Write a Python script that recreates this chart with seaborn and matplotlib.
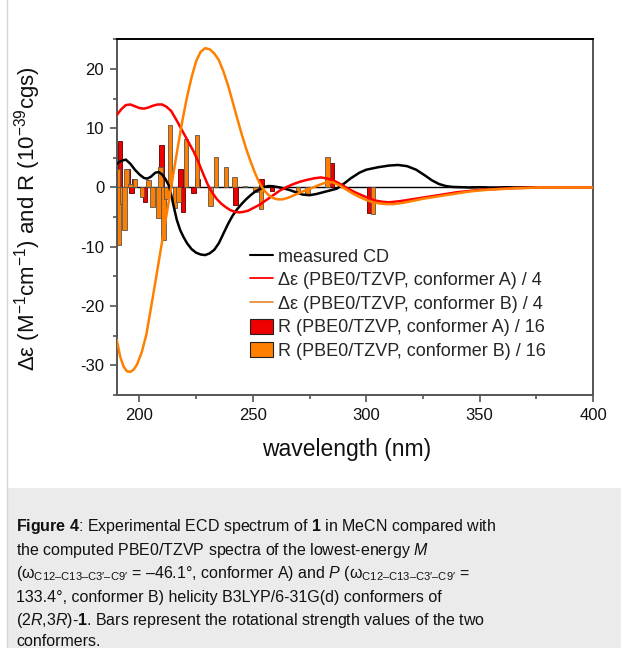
import matplotlib
matplotlib.use("Agg")
import matplotlib.pyplot as plt
import matplotlib.ticker as mticker
from matplotlib.patches import Rectangle, Patch
from matplotlib.lines import Line2D
import seaborn as sns

# measured CD spectrum
cd_nm = [190, 192, 194, 196, 198, 200, 202, 203.5, 205, 207, 208.5, 210, 211.5, 213, 214,
         215, 216.5, 218, 219.5, 221, 223, 225, 227, 229, 231, 233, 235, 237, 239, 241,
         243, 245, 247, 249, 251, 253, 255, 257, 259, 262, 266, 269, 272, 275, 278, 281,
         284, 287, 290, 293, 297, 300, 305, 310, 314, 318, 322, 326, 329, 332, 335, 338,
         342, 346, 350, 354, 358, 362, 366, 370, 375]
cd_val = [4.0, 4.5, 4.7, 4.0, 3.0, 2.2, 1.6, 1.5, 1.8, 2.5, 2.6, 2.2, 1.4, 0.3, -1.2,
          -3.0, -5.5, -7.2, -8.4, -9.4, -10.4, -11.0, -11.3, -11.4, -11.1, -10.5, -9.4, -7.8, -6.2, -4.8,
          -3.7, -2.8, -2.0, -1.3, -0.7, -0.3, 0.1, 0.25, 0.2, 0.0, -0.4, -0.8, -1.2, -1.3, -1.1, -0.8,
          -0.5, -0.2, 0.6, 1.5, 2.5, 3.0, 3.4, 3.7, 3.8, 3.6, 3.0, 2.0, 1.2, 0.6, 0.25, 0.1,
          0.05, 0.0, 0.05, 0.0, 0.0, 0.05, 0.0, 0.0, 0.0]

# computed spectrum, conformer A (divided by 4)
a_nm = [190, 192, 194, 196, 198, 200, 202, 204, 206, 208, 210, 212, 214, 216, 218, 220,
        222, 224, 226, 228, 230, 232, 234, 236, 238, 240, 242, 244, 246, 248, 250, 253,
        256, 259, 262, 265, 268, 271, 274, 277, 280, 283, 286, 289, 292, 295, 298, 301,
        304, 307, 310, 315, 320, 325, 330, 335, 340, 345, 350, 355, 360, 365, 370, 375, 400]
a_val = [12.2, 13.2, 13.9, 14.0, 13.7, 13.4, 13.3, 13.5, 13.8, 14.0, 14.0, 13.6, 12.9, 11.6, 10.2, 8.8,
         7.4, 6.0, 4.3, 2.4, 0.6, -0.8, -1.9, -2.7, -3.3, -3.8, -4.1, -4.2, -4.1, -3.9, -3.5, -2.9,
         -2.1, -1.3, -0.5, 0.1, 0.6, 1.0, 1.3, 1.55, 1.7, 1.5, 1.1, 0.5, -0.2, -0.8, -1.3, -1.8,
         -2.2, -2.4, -2.5, -2.3, -2.0, -1.7, -1.4, -1.1, -0.8, -0.6, -0.4, -0.3, -0.2, -0.1, -0.05, 0.0, 0.0]

# computed spectrum, conformer B (divided by 4)
b_nm = [190, 191.5, 193, 194.5, 196, 197.5, 199, 201, 203, 205, 207, 209, 211, 213, 215, 217,
        219, 221, 223, 225, 227, 229, 231, 233, 235, 237, 239, 241, 243, 245, 247, 249,
        251, 253, 255, 257, 259, 261, 263, 265, 267, 270, 273, 276, 279, 282, 285, 288,
        291, 294, 297, 300, 303, 306, 309, 312, 316, 320, 325, 330, 335, 340, 345, 350,
        355, 360, 365, 370, 375, 400]
b_val = [-25.7, -28.5, -30.2, -31.0, -31.1, -30.7, -29.8, -27.8, -24.9, -20.5, -16.0, -11.4, -6.8, -2.2, 2.4, 7.0,
         11.4, 15.3, 18.6, 21.3, 22.9, 23.5, 23.3, 22.6, 21.5, 19.6, 17.3, 14.6, 11.8, 9.1, 6.6, 4.4,
         2.4, 0.7, -0.5, -1.3, -1.8, -2.0, -2.0, -1.8, -1.5, -1.0, -0.5, -0.1, 0.4, 0.8, 0.9, 0.4,
         -0.3, -1.0, -1.6, -2.1, -2.5, -2.7, -2.8, -2.8, -2.6, -2.3, -1.9, -1.6, -1.3, -1.0, -0.7, -0.5,
         -0.35, -0.25, -0.15, -0.1, 0.0, 0.0]

# rotational strengths / 16
ra_nm = [191.4, 194.9, 196.5, 197.6, 202.4, 209.8, 218.1, 219.2, 223.8, 225.6,
         242.3, 253.8, 258.4, 284.8, 301.3, 347.0]
ra_val = [7.9, 3.2, -1.0, 1.4, -2.4, 7.1, 3.2, -4.1, -1.0, 1.5,
          -3.0, 1.5, -0.6, 4.1, -4.3, 0.2]
rb_nm = [190.4, 190.9, 192.6, 193.4, 194.2, 196.0, 198.0, 201.2, 204.0, 205.7, 208.3,
         209.3, 210.6, 212.0, 213.5, 215.6, 217.2, 220.6, 225.3, 231.3, 233.8, 238.2,
         242.0, 246.5, 251.2, 253.5, 269.9, 274.2, 282.9, 302.9, 351.6, 373.8]
rb_val = [3.2, -9.7, -2.7, -7.2, 3.1, 0.6, 1.4, -1.6, 1.3, -3.3, -5.2,
          3.4, -8.8, -1.9, 10.6, -3.5, -2.4, 8.1, 8.9, -3.2, 5.1, 3.4,
          1.7, 0.2, -0.7, -3.7, -0.9, -1.1, 5.1, -4.4, 0.2, 0.2]

legend_labels = ["measured CD",
                 "Δε (PBE0/TZVP, conformer A) / 4",
                 "Δε (PBE0/TZVP, conformer B) / 4",
                 "R (PBE0/TZVP, conformer A) / 16",
                 "R (PBE0/TZVP, conformer B) / 16"]

sns.set_theme(style="ticks")
plt.rcParams['font.family'] = ['Liberation Sans', 'DejaVu Sans']
plt.rcParams['mathtext.fontset'] = 'custom'
plt.rcParams['mathtext.rm'] = 'Liberation Sans'
plt.rcParams['mathtext.it'] = 'Liberation Sans:italic'
plt.rcParams['mathtext.bf'] = 'Liberation Sans:bold'
plt.rcParams['axes.unicode_minus'] = False

red = '#ff0000'
orange = '#ff8000'

fig = plt.figure(figsize=(6.21, 6.48), dpi=100)
fig.patches.append(Rectangle((7 / 621, 0), 1, 160 / 648, transform=fig.transFigure,
                             facecolor='#ebebeb', edgecolor='none', zorder=0))
fig.add_artist(Line2D([6.5 / 621] * 2, [0, 1], color='#d6d6d6', lw=1))

ax = fig.add_axes([0.188, 0.3904, 0.767, 0.549])

ax.bar(ra_nm, ra_val, width=2.0, color='#ee0000', edgecolor='#5a0000', linewidth=0.6, zorder=2)
ax.bar(rb_nm, rb_val, width=2.0, color=orange, edgecolor='#555555', linewidth=0.6, zorder=2.1)
ax.axhline(0, color='black', lw=1, zorder=1.5)

sns.lineplot(x=cd_nm, y=cd_val, ax=ax, color='black', lw=1.8, zorder=3)
sns.lineplot(x=a_nm, y=a_val, ax=ax, color=red, lw=1.8, zorder=3)
sns.lineplot(x=b_nm, y=b_val, ax=ax, color=orange, lw=1.8, zorder=3.1)

ax.set_xlim(190, 400)
ax.set_ylim(-35, 25)
ax.xaxis.set_major_locator(mticker.MultipleLocator(50))
ax.xaxis.set_minor_locator(mticker.MultipleLocator(25))
ax.yaxis.set_major_locator(mticker.MultipleLocator(10))
ax.yaxis.set_minor_locator(mticker.MultipleLocator(5))
ax.tick_params(which='major', direction='out', length=5, width=1.1, labelsize=12,
               color='#444444', labelcolor='#111111', top=False, right=False, pad=4)
ax.tick_params(which='minor', direction='out', length=3, width=1.1, color='#444444',
               top=False, right=False)
for side in ['left', 'bottom', 'right']:
    ax.spines[side].set_color('#555555')
    ax.spines[side].set_linewidth(1.4)
ax.spines['top'].set_color('black')
ax.spines['top'].set_linewidth(1.4)

ax.set_xlabel('wavelength (nm)', fontsize=16.5, color='#111111')
ax.xaxis.set_label_coords(0.483, -0.12)
ax.set_ylabel(r'Δε (M$^{-1}$cm$^{-1}$) and R (10$^{-39}$cgs)', fontsize=16, color='#111111')
ax.yaxis.set_label_coords(-0.155, 0.495)

handles = [Line2D([], [], color='black', lw=1.5),
           Line2D([], [], color=red, lw=1.3),
           Line2D([], [], color='#e8903a', lw=1.3),
           Patch(facecolor='#ee0000', edgecolor='#222222', linewidth=0.8),
           Patch(facecolor=orange, edgecolor='#222222', linewidth=0.8)]
ax.legend(handles, legend_labels, loc='upper left', bbox_to_anchor=(0.280, 0.413),
          frameon=False, fontsize=13, handlelength=1.25, handleheight=0.9,
          handletextpad=0.3, labelspacing=0.32, borderaxespad=0, borderpad=0)

caption = [r"$\mathbf{Figure\ 4}$: Experimental ECD spectrum of $\mathbf{1}$ in MeCN compared with",
           r"the computed PBE0/TZVP spectra of the lowest-energy $\mathit{M}$",
           r"(ω$_{\mathrm{C12–C13–C3′–C9′}}$ = –46.1°, conformer A) and $\mathit{P}$ (ω$_{\mathrm{C12–C13–C3′–C9′}}$ =",
           r"133.4°, conformer B) helicity B3LYP/6-31G(d) conformers of",
           r"(2$\mathit{R}$,3$\mathit{R}$)-$\mathbf{1}$. Bars represent the rotational strength values of the two",
           r"conformers."]
baselines = [531.5, 555, 578.3, 601.7, 625, 646.5]
for line, yb in zip(caption, baselines):
    fig.text(16 / 621, 1 - yb / 648, line, fontsize=11.5, color='#111111',
             ha='left', va='baseline')

fig.savefig('out.png', dpi=100)
